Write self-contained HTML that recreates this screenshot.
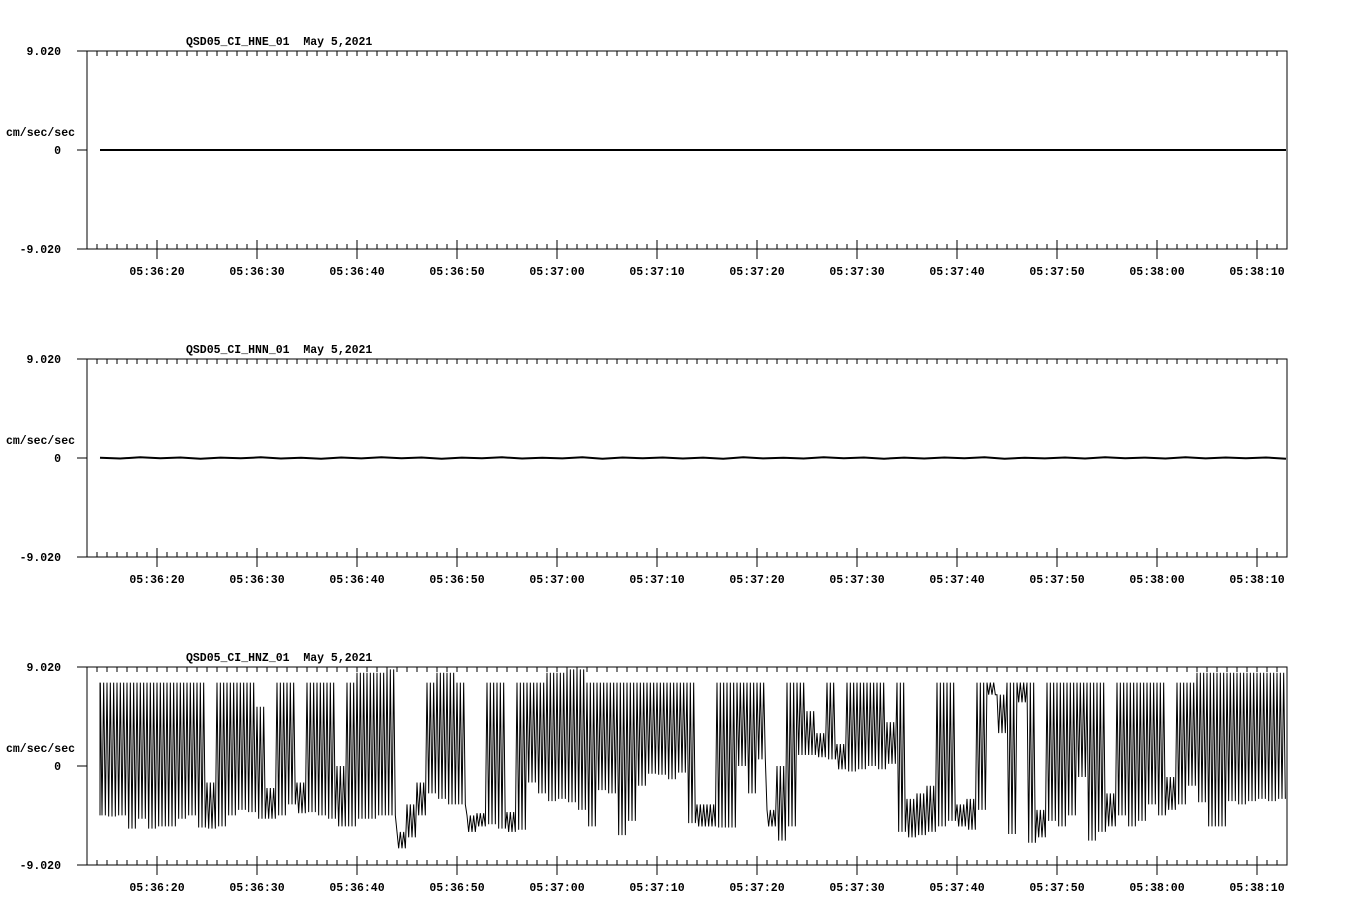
<!DOCTYPE html>
<html><head><meta charset="utf-8"><style>
html,body{margin:0;padding:0;background:#fff;}
svg{display:block;}
text{font-family:"Liberation Mono","DejaVu Sans Mono",monospace;font-weight:bold;font-size:11.5px;fill:#000;}
</style></head><body>
<svg id="chart" width="1358" height="924" viewBox="0 0 1358 924" xmlns="http://www.w3.org/2000/svg"></svg>
<script>
// ---- data ----
const channels = ["QSD05_CI_HNE_01","QSD05_CI_HNN_01","QSD05_CI_HNZ_01"];
const dateLabel = "May 5,2021";
const yTickLabels = ["9.020","0","-9.020"];
const yTickValues = [9.02, 0, -9.02];
const timeTickLabels = ["05:36:20","05:36:30","05:36:40","05:36:50","05:37:00","05:37:10","05:37:20","05:37:30","05:37:40","05:37:50","05:38:00","05:38:10"];
const timeTickSeconds = [20,30,40,50,60,70,80,90,100,110,120,130];
const tStart = 14.3, tEnd = 132.9;
// HNE: flat zero
const hneValues = [0,0,0,0,0,0,0,0,0,0,0,0,0];
// HNN: tiny noise around zero
const hnnValues = [0.03,-0.05,0.06,-0.03,0.05,-0.06,0.04,-0.03,0.06,-0.05,0.03,-0.06,0.05,-0.04,0.06,-0.03,0.05,-0.06,0.04,-0.03,0.06,-0.05,0.03,-0.04,0.06,-0.06,0.05,-0.03,0.05,-0.05,0.04,-0.06,0.06,-0.04,0.03,-0.05,0.06,-0.03,0.05,-0.06,0.04,-0.05,0.05,-0.03,0.06,-0.06,0.03,-0.04,0.05,-0.05,0.06,-0.03,0.04,-0.05,0.06,-0.04,0.05,-0.03,0.05,-0.06];
// HNZ: per-second high/low envelope, seconds 14..132
const hnzSeconds = [];
for (let s = 14; s <= 132; s++) hnzSeconds.push(s);
const hnzHigh = [7.6,7.6,7.6,7.6,7.6,7.6,7.6,7.6,7.6,7.6,7.6,-1.5,7.6,7.6,7.6,7.6,5.4,-2,7.6,7.6,-1.5,7.6,7.6,7.6,0,7.6,8.5,8.5,8.5,8.8,-6,-3.5,-1.5,7.6,8.5,8.5,7.6,-4.5,-4.3,
  7.6,7.6,-4.2,7.6,7.6,7.6,8.5,8.5,8.8,8.8,7.6,7.6,7.6,7.6,7.6,7.6,7.6,7.6,7.6,7.6,7.6,-3.5,-3.5,7.6,7.6,7.6,7.6,7.6,-4,0,7.6,7.6,5,3,7.6,2,7.6,7.6,7.6,7.6,4,
  7.6,-3,-2.5,-1.8,7.6,7.6,-3.5,-3,7.6,7.6,6.5,7.6,7.6,7.6,-4,7.6,7.6,7.6,7.6,7.6,7.6,-2.5,7.6,7.6,7.6,7.6,7.6,-1,7.6,7.6,8.5,8.5,8.5,8.5,8.5,8.5,8.5,8.5,8.5,8.5];
const hnzLow = [-4.5,-4.6,-4.5,-5.7,-4.8,-5.7,-5.5,-5.5,-4.8,-4.5,-5.6,-5.7,-5.5,-4.5,-4,-4.2,-4.8,-4.8,-4.5,-3.5,-4.3,-4.2,-4.5,-4.8,-5.5,-5.5,-4.8,-4.8,-4.5,-4.5,-7.5,-6.5,-4.5,-2.5,-3,-3.5,-3.5,-6,-5.5,
  -5.3,-5.7,-6,-5.8,-1.5,-2.5,-3.2,-3,-3.3,-4,-5.5,-2.2,-2.5,-6.3,-5,-1.8,-0.7,-0.8,-1.2,-0.6,-5.2,-5.5,-5.5,-5.6,-5.6,0,-2.5,0.6,-5.5,-6.8,-5.5,1,1,0.8,0.6,-0.3,-0.5,-0.3,0,-0.3,0.2,
  -6,-6.5,-6.3,-6,-5.5,-5,-5.5,-5.8,-4,6.5,3,-6.2,5.8,-7,-6.5,-5,-5.5,-4.5,-1,-6.8,-6,-5.5,-4.5,-5.5,-5,-3.5,-4.5,-4,-3.5,-1.8,-3.3,-5.5,-5.5,-3.2,-3.5,-3.2,-3,-3.2,-3,-2.2];

// ---- layout ----
const NS = "http://www.w3.org/2000/svg";
const svg = document.getElementById("chart");
const X0 = 87, X1 = 1287, T0 = 13;
const PX_PER_S = 10;
const panelTops = [51, 359, 667];
const PANEL_H = 198;
function xScale(t){ return X0 + (t - T0) * PX_PER_S; }
function yScaleFor(top){ return v => top + PANEL_H/2 - v * (PANEL_H/2) / 9.02; }
function el(tag, attrs, parent){ const e = document.createElementNS(NS, tag); for (const k in attrs) e.setAttribute(k, attrs[k]); (parent||svg).appendChild(e); return e; }

panelTops.forEach((top, pi) => {
  const g = el("g", {});
  
  
  const y = yScaleFor(top);
  const bottom = top + PANEL_H;
  const frame = el("path", {d:`M${X0-10},${top}H${X1}V${bottom}H${X0-10}M${X0},${top}V${bottom}M${X0-10},${y(0)}H${X0}`, stroke:"#000", "stroke-width":1, fill:"none", "shape-rendering":"crispEdges"}, g);
  
  
  let d = "";
  for (let s = 14; s <= 132; s++) {
    const x = xScale(s);
    d += `M${x},${top}v5`;
    if (s % 10 === 0) d += `M${x},${bottom-9}v19`; else d += `M${x},${bottom}v-5`;
  }
  const ticks = el("path", {d, stroke:"#000", "stroke-width":1, "shape-rendering":"crispEdges"}, g);
  
  
  timeTickLabels.forEach((lab, i) => {
    const t = el("text", {x:xScale(timeTickSeconds[i]), y:bottom+26, "text-anchor":"middle"}, g);
    t.textContent = lab;
    
    
  });
  yTickLabels.forEach((lab, i) => {
    const t = el("text", {x:61, y:y(yTickValues[i])+4, "text-anchor":"end"}, g);
    t.textContent = lab;
    
    
  });
  const unit = el("text", {x:6, y:top+85}, g);
  unit.textContent = "cm/sec/sec";
  
  
  const title = el("text", {x:186, y:top-6}, g);
  title.textContent = channels[pi] + "  " + dateLabel;
  title.style.whiteSpace = "pre";
  
  

  let pd = "";
  if (pi === 0) {
    hneValues.forEach((v, i) => {
      const t = tStart + (tEnd - tStart) * i / (hneValues.length - 1);
      pd += (i ? "L" : "M") + xScale(t).toFixed(1) + "," + y(v).toFixed(1);
    });
    const tr = el("path", {d:pd, stroke:"#000", "stroke-width":2, fill:"none"}, g);
    
    
  } else if (pi === 1) {
    hnnValues.forEach((v, i) => {
      const t = tStart + (tEnd - tStart) * i / (hnnValues.length - 1);
      pd += (i ? "L" : "M") + xScale(t).toFixed(1) + "," + y(v).toFixed(1);
    });
    const tr = el("path", {d:pd, stroke:"#000", "stroke-width":2, fill:"none"}, g);
    
    
  } else {
    const steps = 6;
    hnzSeconds.forEach((s, i) => {
      const hi = hnzHigh[i], lo = hnzLow[i];
      for (let j = 0; j < steps; j++) {
        let t = s + j / steps;
        if (t < tStart) t = tStart;
        if (t > tEnd) return;
        const v = (j % 2 === 0) ? hi : lo;
        pd += ((i === 0 && j === 0) ? "M" : "L") + xScale(t).toFixed(2) + "," + y(v).toFixed(1);
      }
    });
    const tr = el("path", {d:pd, stroke:"#000", "stroke-width":1, fill:"none"}, g);
    
    
  }
});
</script>
</body></html>
